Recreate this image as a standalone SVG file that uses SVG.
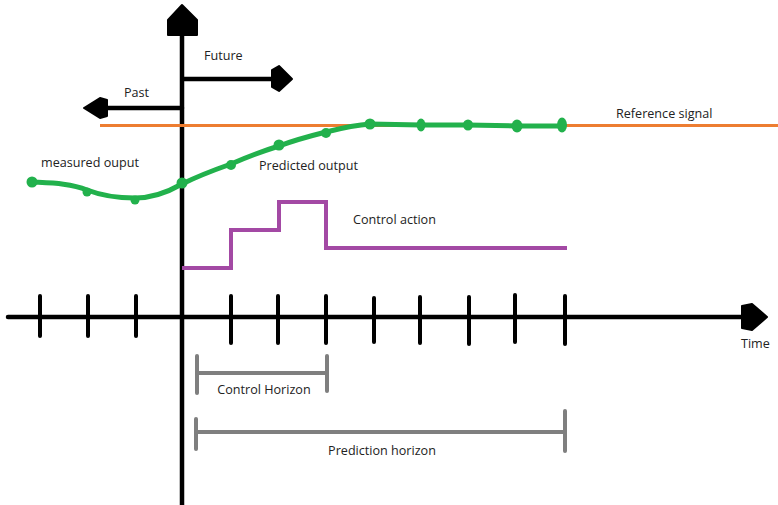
<svg xmlns="http://www.w3.org/2000/svg" width="778" height="505" viewBox="0 0 778 505">
<style>
.ax{stroke:#000;stroke-width:4.5;fill:none;stroke-linecap:round}
.tk{stroke:#000;stroke-width:4;stroke-linecap:round}
.hd{fill:#000;stroke:#000;stroke-width:2;stroke-linejoin:round}
.gr{stroke:#7f7f7f;stroke-width:4;fill:none;stroke-linecap:round}
.lbl{font-family:"Open Sans","Noto Sans",sans-serif;font-size:12.6px;fill:#222}
.dot{fill:#22b14c}
</style>
<rect width="778" height="505" fill="#fff"/>
<g id="connectors">
  <line class="ax" x1="182" y1="505" x2="182" y2="34"/>
  <polygon class="hd" points="168,35 168,20 182,5 197,20 197,35"/>
  <line class="ax" x1="183" y1="79" x2="274" y2="79"/>
  <polygon class="hd" points="272,70 279,66 292,79 279,91 272,87"/>
  <line class="ax" x1="182" y1="108" x2="106" y2="108"/>
  <polygon class="hd" points="107,100 100,98 84,108 100,118 107,116"/>
  <line class="ax" x1="8" y1="317" x2="744" y2="317"/>
  <polygon class="hd" points="742,306 752,304 767,317 752,330 742,328"/>
  <g>
    <line class="tk" x1="40" y1="296" x2="40" y2="336"/>
    <line class="tk" x1="88" y1="296" x2="88" y2="336"/>
    <line class="tk" x1="136" y1="296" x2="136" y2="336"/>
    <line class="tk" x1="231" y1="296" x2="231" y2="343"/>
    <line class="tk" x1="278" y1="296" x2="278" y2="343"/>
    <line class="tk" x1="326" y1="296" x2="326" y2="343"/>
    <line class="tk" x1="374" y1="298" x2="374" y2="342"/>
    <line class="tk" x1="420" y1="297" x2="420" y2="343"/>
    <line class="tk" x1="469" y1="297" x2="469" y2="344"/>
    <line class="tk" x1="515" y1="295" x2="515" y2="342"/>
    <line class="tk" x1="565" y1="296" x2="565" y2="344"/>
  </g>
</g>
<g id="reference-signal">
  <line x1="100" y1="125.5" x2="778" y2="125.5" stroke="#ed7d31" stroke-width="3"/>
  <text class="lbl" x="616" y="118">Reference signal</text>
</g>
<g id="output">
  <path d="M31,182 C50,183 70,183 87,190 C100,195 118,198 135,198 C152,198 168,192 182,184 C198,176 214,170 231,164 C247,157 263,151 279,146 C295,140 310,136 326,132 C342,128 355,125 370,124 L421,125 L467,125 L517,126 L562,126" fill="none" stroke="#22b14c" stroke-width="5" stroke-linecap="round" stroke-linejoin="round"/>
  <circle class="dot" cx="32" cy="182" r="5.5"/>
  <circle class="dot" cx="87" cy="192" r="4.5"/>
  <circle class="dot" cx="135" cy="200" r="4.5"/>
  <circle class="dot" cx="182" cy="183" r="5.5"/>
  <circle class="dot" cx="231" cy="165" r="5"/>
  <circle class="dot" cx="279" cy="145" r="5.5"/>
  <circle class="dot" cx="326" cy="133" r="5"/>
  <circle class="dot" cx="370" cy="124" r="5.5"/>
  <ellipse class="dot" cx="421" cy="125" rx="4.5" ry="6.5"/>
  <ellipse class="dot" cx="468" cy="125" rx="5" ry="5.5"/>
  <ellipse class="dot" cx="517" cy="126" rx="5.5" ry="6.5"/>
  <ellipse class="dot" cx="562" cy="125" rx="5" ry="7.5"/>
  <text class="lbl" x="41" y="167">measured ouput</text>
  <text class="lbl" x="259" y="170">Predicted output</text>
</g>
<g id="control-action">
  <polyline points="182,268 231,268 231,230 279,230 279,202 326,202 326,248 567,248" fill="none" stroke="#a349a4" stroke-width="4" stroke-linejoin="miter"/>
  <text class="lbl" x="353" y="224">Control action</text>
</g>
<g id="labels">
  <text class="lbl" x="204" y="60">Future</text>
  <text class="lbl" x="124" y="97">Past</text>
  <text class="lbl" x="741" y="348">Time</text>
</g>
<g id="control-horizon">
  <line class="gr" x1="197" y1="356" x2="197" y2="393"/>
  <line class="gr" x1="197" y1="373" x2="327" y2="373"/>
  <line class="gr" x1="327" y1="356" x2="327" y2="391"/>
  <text class="lbl" x="264" y="394" text-anchor="middle">Control Horizon</text>
</g>
<g id="prediction-horizon">
  <line class="gr" x1="196" y1="419" x2="196" y2="449"/>
  <line class="gr" x1="196" y1="432" x2="565" y2="432"/>
  <line class="gr" x1="565" y1="411" x2="565" y2="451"/>
  <text class="lbl" x="382" y="455" text-anchor="middle">Prediction horizon</text>
</g>
</svg>
